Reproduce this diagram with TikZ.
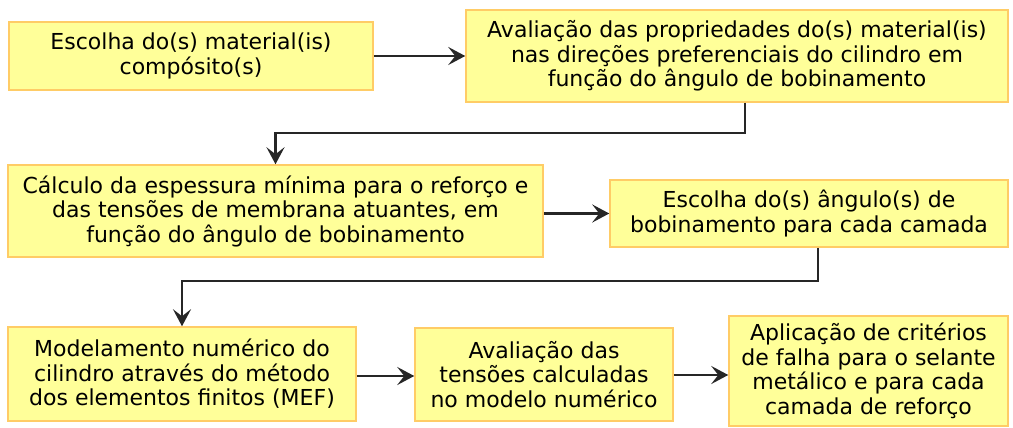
\documentclass[tikz,border=0pt]{standalone}
\usepackage{fontspec}
\setmainfont{DejaVu Sans}
\usepackage{tikz}
\usetikzlibrary{arrows.meta}

\definecolor{caixafundo}{RGB}{255,255,153}
\definecolor{caixaborda}{RGB}{255,204,102}

\begin{document}
\begin{tikzpicture}[x=1pt,y=-1pt,
    etapa/.style={draw=caixaborda, fill=caixafundo, line width=1.5pt,
        align=center, inner sep=2pt, text=black,
        font=\fontsize{22}{24.5}\selectfont},
    seta/.style={line width=2.8pt, draw=black!85,
        -{Stealth[length=17pt,width=18pt,inset=7pt]}}]
            % Fundo e limites
            \useasboundingbox[fill=white] (0,0) rectangle (1013,428);

            % Primeira linha
            \node[etapa, minimum width=364pt, minimum height=68pt] (escolhaMat) at (191,56)
                {Escolha do(s) material(is)\\compósito(s)};
            \node[etapa, minimum width=542pt, minimum height=92pt] (avalProp) at (737,56)
                {Avaliação das propriedades do(s) material(is)\\nas direções preferenciais do cilindro em\\função do ângulo de bobinamento};

            % Segunda linha
            \node[etapa, minimum width=535pt, minimum height=92pt] (calcEsp) at (275.5,211)
                {Cálculo da espessura mínima para o reforço e\\das tensões de membrana atuantes, em\\função do ângulo de bobinamento};
            \node[etapa, minimum width=398pt, minimum height=67pt] (escolhaAng) at (809,213.5)
                {Escolha do(s) ângulo(s) de\\bobinamento para cada camada};

            % Terceira linha
            \node[etapa, minimum width=348pt, minimum height=94pt] (modelMEF) at (182,374)
                {Modelamento numérico do\\cilindro através do método\\dos elementos finitos (MEF)};
            \node[etapa, minimum width=258pt, minimum height=93pt] (avalTens) at (544,374.5)
                {Avaliação das\\tensões calculadas\\no modelo numérico};
            \node[etapa, minimum width=279pt, minimum height=110pt] (criterios) at (868.5,371)
                {Aplicação de critérios\\de falha para o selante\\metálico e para cada\\camada de reforço};

            % Pontos de dobra
            \coordinate (dobraA) at (745,133);
            \coordinate (dobraB) at (818,281);

            % Ligacoes
            \draw[seta] (escolhaMat) -- (avalProp.west |- escolhaMat);
            \draw[seta] (avalProp.south -| dobraA) -- (dobraA) -| (calcEsp.north);
            \draw[seta] (calcEsp.east |- escolhaAng) -- (escolhaAng);
            \draw[seta] (escolhaAng.south -| dobraB) -- (dobraB) -| (modelMEF.north);
            \draw[seta] (modelMEF.east |- 0,376) -- (avalTens.west |- 0,376);
            \draw[seta] (avalTens.east |- 0,375) -- (criterios.west |- 0,375);
        \end{tikzpicture}
\end{document}
